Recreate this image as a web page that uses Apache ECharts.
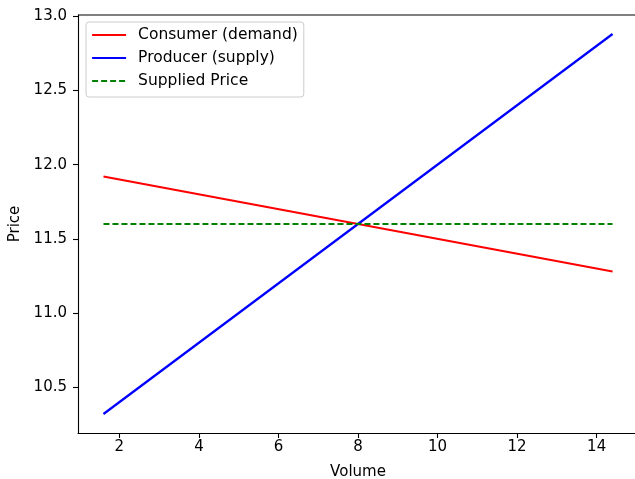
<!DOCTYPE html>
<html><head><meta charset="utf-8">
<script src="https://cdn.jsdelivr.net/npm/echarts@6/dist/echarts.min.js"></script>
<style>html,body{margin:0;padding:0;background:#fff}#c{width:635px;height:479px}</style>
</head><body><div id="c"></div>
<script>
const volume = [1.6, 14.4];
const consumerPrice = [11.92, 11.28];
const producerPrice = [10.32, 12.88];
const suppliedPrice = [11.6, 11.6];
const xTicks = [2, 4, 6, 8, 10, 12, 14];
const yTicks = [10.5, 11.0, 11.5, 12.0, 12.5, 13.0];
const seriesNames = ['Consumer (demand)', 'Producer (supply)', 'Supplied Price'];

const font = 'DejaVu Sans';
const fs = 15;
const lw = 2.2;
const chart = echarts.init(document.getElementById('c'), null, {renderer: 'canvas'});
const pts = ys => volume.map((v, i) => [v, ys[i]]);
chart.setOption({
  animation: false,
  backgroundColor: '#fff',
  textStyle: {fontFamily: font},
  grid: {left: 78, top: 15, width: 560, height: 418, show: false, containLabel: false, outerBoundsMode: 'none'},
  legend: {
    left: 86, top: 22, orient: 'vertical',
    padding: [5, 6, 8, 5], itemGap: 7, itemWidth: 34, itemHeight: 14,
    borderColor: '#ccc', borderWidth: 1, borderRadius: 3, backgroundColor: 'rgba(255,255,255,0.8)',
    itemStyle: {opacity: 0},
    lineStyle: {width: lw},
    textStyle: {fontFamily: font, fontSize: 15.5, color: '#000', padding: [0, 0, 0, 7]},
    data: seriesNames
  },
  xAxis: {
    type: 'value', min: 0.96, max: 15.04,
    name: 'Volume', nameLocation: 'middle', nameGap: 32,
    nameTextStyle: {fontFamily: font, fontSize: fs, color: '#000'},
    axisLine: {show: true, onZero: false, lineStyle: {color: '#000', width: 1.1}},
    axisTick: {show: true, length: 5, inside: false, customValues: xTicks, lineStyle: {color: '#000', width: 1.1}},
    axisLabel: {show: true, customValues: xTicks, fontFamily: font, fontSize: fs, color: '#000', margin: 7, formatter: v => String(v)},
    splitLine: {show: false}
  },
  yAxis: {
    type: 'value', min: 10.192, max: 13.008,
    name: 'Price', nameLocation: 'middle', nameGap: 50, nameRotate: 90,
    nameTextStyle: {fontFamily: font, fontSize: fs, color: '#000'},
    axisLine: {show: true, onZero: false, lineStyle: {color: '#000', width: 1.1}},
    axisTick: {show: true, length: 5, inside: false, customValues: yTicks, lineStyle: {color: '#000', width: 1.1}},
    axisLabel: {show: true, customValues: yTicks, fontFamily: font, fontSize: fs, color: '#000', margin: 11, formatter: v => v.toFixed(1)},
    splitLine: {show: false}
  },
  series: [
    {name: seriesNames[0], type: 'line', symbol: 'none', data: pts(consumerPrice), lineStyle: {color: '#ff0000', width: lw}, itemStyle: {color: '#ff0000'}},
    {name: seriesNames[1], type: 'line', symbol: 'none', data: pts(producerPrice), lineStyle: {color: '#0000ff', width: lw}, itemStyle: {color: '#0000ff'}},
    {name: seriesNames[2], type: 'line', symbol: 'none', data: pts(suppliedPrice), lineStyle: {color: '#008000', width: lw, type: [6, 3]}, itemStyle: {color: '#008000'}}
  ],
  graphic: [{type: 'line', shape: {x1: 78, y1: 15, x2: 638, y2: 15}, style: {stroke: '#000', lineWidth: 1.1}, silent: true}]
});
</script></body></html>
